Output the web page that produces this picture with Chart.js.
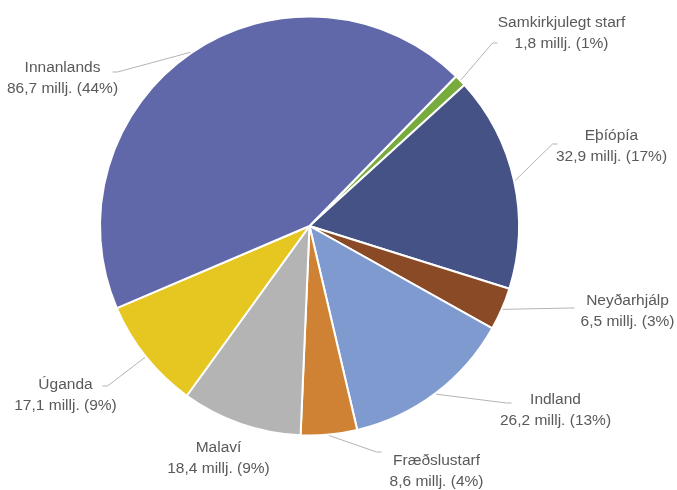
<!DOCTYPE html>
<html>
<head>
<meta charset="utf-8">
<script src="https://cdn.jsdelivr.net/npm/chart.js@4"></script>
<style>
  html, body { margin: 0; padding: 0; background: #ffffff; }
</style>
</head>
<body>
<canvas id="PieChart" width="677" height="490"></canvas>
<script>
// data, in clockwise order starting with the small green slice
const categories = [
  "Samkirkjulegt starf",
  "Eþíópía",
  "Neyðarhjálp",
  "Indland",
  "Fræðslustarf",
  "Malaví",
  "Úganda",
  "Innanlands",
];
const amounts = [1.8, 32.9, 6.5, 26.2, 8.6, 18.4, 17.1, 86.7]; // millj.
const unitLabel = "millj.";

const sliceColors = [
  "#77ab3d",
  "#445286",
  "#8a4a26",
  "#7f9acf",
  "#d08234",
  "#b4b4b4",
  "#e6c620",
  "#6068a9",
];

// where each label sits, offset from the pie centre (px); leader = end of leader line
const labelLayout = [
  { dx: 252, dy: -193, leader: [188, -183] },
  { dx: 302, dy: -80, leader: [248, -82] },
  { dx: 318, dy: 85, leader: [265, 82] },
  { dx: 246, dy: 184, leader: [202, 177] },
  { dx: 127, dy: 245, leader: [72, 226] },
  { dx: -91, dy: 232, leader: null },
  { dx: -244, dy: 169, leader: [-207, 160] },
  { dx: -247, dy: -148, leader: [-197, -154] },
];

document.addEventListener("DOMContentLoaded", function () {
  const ctx = document.getElementById("PieChart").getContext("2d");
  const total = amounts.reduce((a, b) => a + b, 0);

  const outsideLabels = {
    id: "outsideLabels",
    afterDraw(chart) {
      const c = chart.ctx;
      const meta = chart.getDatasetMeta(0);
      c.save();
      meta.data.forEach(function (arc, i) {
        const lay = labelLayout[i];
        const mid = (arc.startAngle + arc.endAngle) / 2;
        const r = arc.outerRadius + 1;
        const ex = arc.x + Math.cos(mid) * r;
        const ey = arc.y + Math.sin(mid) * r;

        if (lay.leader) {
          const lx = arc.x + lay.leader[0];
          const ly = arc.y + lay.leader[1];
          const side = lx > ex ? -1 : 1;
          c.beginPath();
          c.moveTo(ex, ey);
          c.lineTo(lx + side * 5, ly);
          c.lineTo(lx, ly);
          c.strokeStyle = "#b3b3b3";
          c.lineWidth = 1;
          c.stroke();
        }

        const v = amounts[i];
        const pct = Math.round((v / total) * 100);
        const lines = [
          categories[i],
          v.toFixed(1).replace(".", ",") + " " + unitLabel + " (" + pct + "%)",
        ];
        c.font = '15.5px "Liberation Sans", Arial, sans-serif';
        c.fillStyle = "#595959";
        c.textAlign = "center";
        c.textBaseline = "middle";
        const cx = arc.x + lay.dx;
        const cy = arc.y + lay.dy;
        c.fillText(lines[0], cx, cy - 10.25);
        c.fillText(lines[1], cx, cy + 10.25);
      });
      c.restore();
    },
  };

  const chart = new Chart(ctx, {
    type: "pie",
    data: {
      labels: categories,
      datasets: [
        {
          data: amounts,
          backgroundColor: sliceColors,
          borderColor: "#ffffff",
          borderWidth: 2,
        },
      ],
    },
    options: {
      responsive: false,
      animation: false,
      rotation: 44.4,
      layout: {
        padding: { left: 99, right: 157, top: 15, bottom: 53 },
      },
      plugins: {
        legend: { display: false },
        tooltip: { enabled: false },
      },
      events: [],
    },
    plugins: [outsideLabels],
  });
});
</script>
</body>
</html>
